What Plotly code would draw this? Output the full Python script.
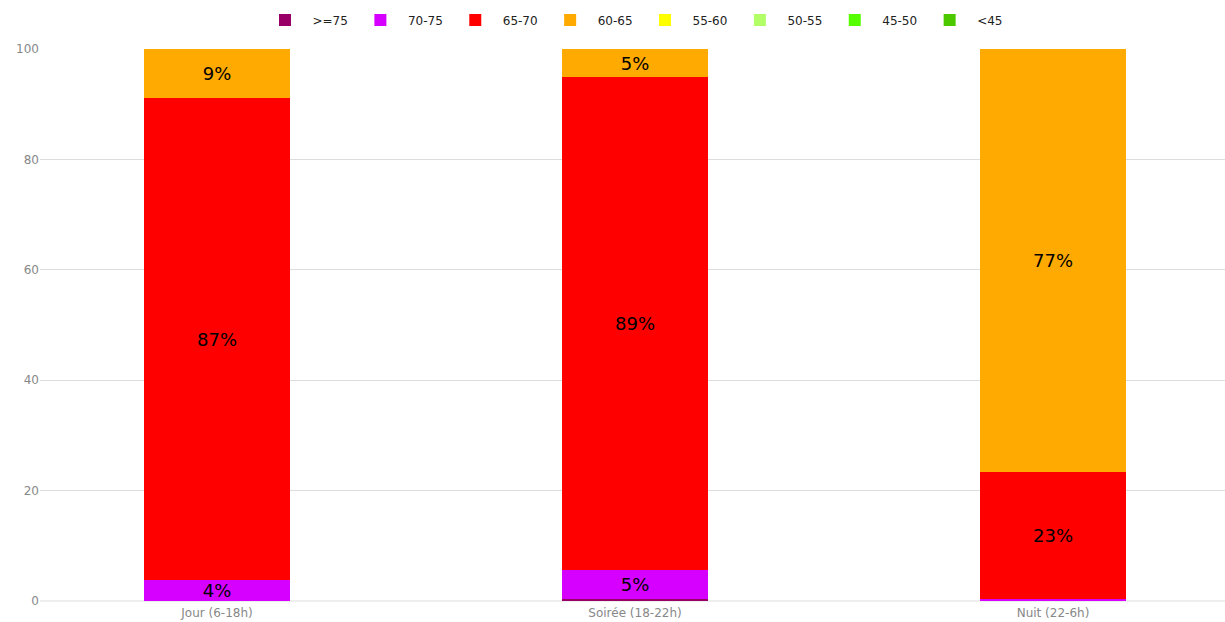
import plotly.graph_objects as go

categories = ["Jour (6-18h)", "Soirée (18-22h)", "Nuit (22-6h)"]
series_names = [">=75", "70-75", "65-70", "60-65", "55-60", "50-55", "45-50", "<45"]
colors = ["#990066", "#d500ff", "#ff0000", "#ffaa00", "#ffff00", "#b3ff66", "#55ff00", "#4cc800"]

v_ge75 = [0.0, 0.4, 0.0]
v_70_75 = [3.8, 5.2, 0.3]
v_65_70 = [87.3, 89.3, 23.1]
v_60_65 = [8.9, 5.1, 76.6]
v_55_60 = [0.0, 0.0, 0.0]
v_50_55 = [0.0, 0.0, 0.0]
v_45_50 = [0.0, 0.0, 0.0]
v_lt45 = [0.0, 0.0, 0.0]

values = [v_ge75, v_70_75, v_65_70, v_60_65, v_55_60, v_50_55, v_45_50, v_lt45]

fig = go.Figure()
for name, col, vals in zip(series_names, colors, values):
    txt = [f"{round(v)}%" if v >= 3 else "" for v in vals]
    fig.add_trace(go.Bar(
        x=categories, y=vals, name=name, marker=dict(color=col, line=dict(width=0)),
        text=txt, texttemplate="%{text}", textposition="inside", insidetextanchor="middle",
        textfont=dict(size=18, color="black", family="DejaVu Sans"),
        hoverinfo="skip",
    ))

fig.update_layout(
    barmode="stack",
    bargap=0.65,
    width=1225, height=622,
    margin=dict(l=40, r=0, t=49, b=21, autoexpand=False),
    plot_bgcolor="white", paper_bgcolor="white",
    font=dict(family="DejaVu Sans", size=12, color="#888"),
    uniformtext=dict(minsize=18, mode="show"),
    legend=dict(orientation="h", x=0.5, xanchor="center", y=0.968, yanchor="middle",
                yref="container", font=dict(size=12, color="#222"),
                itemwidth=45, traceorder="normal"),
    showlegend=True,
)
fig.update_xaxes(range=[-0.4234, 2.4115], showgrid=False, showline=False, ticks="",
                 automargin=False, ticklabelstandoff=3, tickfont=dict(size=12, color="#888"))
fig.update_yaxes(range=[0, 100], dtick=20, showgrid=True, gridcolor="#dddddd",
                 zeroline=True, zerolinecolor="#eeeeee", ticks="", automargin=False,
                 tickfont=dict(size=12, color="#888"))

# remove the page's default 8px body margin so the figure fills the window exactly
fig.write_html("out.html", config={"displayModeBar": False},
               post_script="document.body.style.margin='0';document.body.style.overflow='hidden';")
